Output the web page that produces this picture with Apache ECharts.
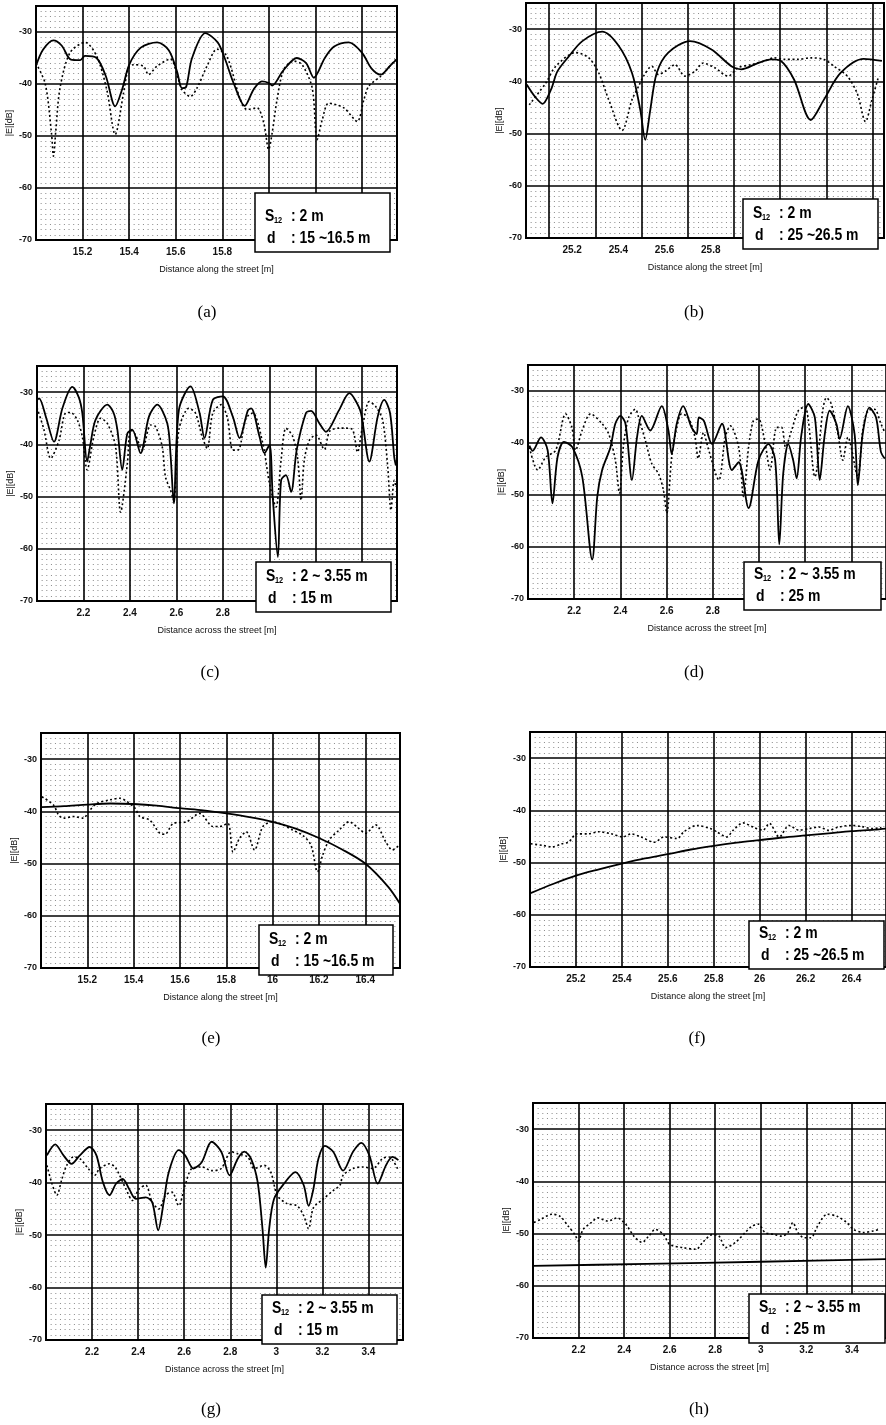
<!DOCTYPE html>
<html>
<head>
<meta charset="utf-8">
<style>
  html, body { margin: 0; padding: 0; background: #fff; }
  #chart { width: 886px; height: 1425px; }
</style>
<script src="https://cdn.jsdelivr.net/npm/echarts@6/dist/echarts.min.js"></script>
</head>
<body>
<div id="chart"></div>
<script>
// (a) along the street, S12 = 2 m, d = 15 ~ 16.5 m
const aSolid = [[15.0,-36.5],[15.03,-33.4],[15.075,-31.6],[15.11,-32.6],[15.15,-35.3],[15.19,-35.4],[15.21,-34.6],[15.26,-35.0],[15.30,-38.5],[15.34,-44.3],[15.37,-41.0],[15.40,-36.3],[15.45,-33.0],[15.52,-32.0],[15.57,-33.5],[15.605,-37.5],[15.627,-40.8],[15.645,-40.5],[15.67,-35.0],[15.727,-30.2],[15.78,-32.0],[15.81,-35.0],[15.85,-40.0],[15.896,-44.2],[15.935,-41.0],[15.97,-39.5],[16.0,-39.8],[16.014,-40.3],[16.06,-37.5],[16.12,-35.0],[16.16,-36.0],[16.193,-38.8],[16.24,-35.0],[16.28,-32.8],[16.343,-32.0],[16.40,-34.0],[16.44,-37.0],[16.48,-38.2],[16.52,-36.5],[16.55,-35.2]];
const aDotted = [[15.0,-36.0],[15.04,-40.0],[15.067,-49.7],[15.075,-53.9],[15.085,-49.0],[15.103,-40.8],[15.146,-34.0],[15.211,-32.0],[15.261,-34.7],[15.304,-41.1],[15.34,-49.7],[15.376,-41.7],[15.397,-36.9],[15.419,-36.3],[15.462,-36.6],[15.483,-38.2],[15.519,-36.6],[15.576,-35.2],[15.612,-39.2],[15.627,-41.1],[15.662,-42.4],[15.691,-40.8],[15.734,-36.6],[15.777,-33.3],[15.82,-34.7],[15.877,-43.0],[15.906,-44.9],[15.949,-44.6],[15.978,-47.5],[15.999,-52.6],[16.014,-49.4],[16.035,-43.0],[16.064,-37.2],[16.107,-35.6],[16.143,-36.3],[16.186,-40.8],[16.207,-50.7],[16.229,-46.9],[16.257,-43.7],[16.322,-44.6],[16.379,-47.2],[16.408,-43.0],[16.429,-40.4],[16.48,-38.5],[16.544,-35.3]];

// (b) along the street, S12 = 2 m, d = 25 ~ 26.5 m
const bSolid = [[25.003,-40.6],[25.04,-43.0],[25.072,-44.3],[25.108,-41.6],[25.136,-38.1],[25.186,-35.2],[25.244,-32.3],[25.33,-30.5],[25.401,-33.2],[25.459,-38.4],[25.495,-45.5],[25.516,-51.2],[25.538,-45.5],[25.566,-38.4],[25.616,-34.5],[25.71,-32.3],[25.803,-33.9],[25.889,-37.1],[25.932,-37.7],[26.004,-36.5],[26.061,-35.8],[26.104,-36.1],[26.161,-39.7],[26.233,-47.4],[26.29,-43.5],[26.362,-38.4],[26.462,-35.7],[26.541,-36.1]];
const bDotted = [[25.014,-44.5],[25.086,-40.3],[25.129,-37.1],[25.215,-34.5],[25.272,-35.5],[25.315,-38.4],[25.358,-43.5],[25.416,-49.4],[25.459,-43.5],[25.487,-41.0],[25.509,-39.0],[25.545,-37.1],[25.573,-38.7],[25.602,-38.1],[25.645,-36.8],[25.688,-39.0],[25.731,-38.1],[25.767,-36.5],[25.817,-37.4],[25.875,-39.0],[25.918,-37.4],[25.975,-36.8],[26.032,-36.1],[26.075,-35.5],[26.118,-35.8],[26.176,-35.8],[26.233,-35.5],[26.29,-35.8],[26.333,-37.1],[26.391,-39.0],[26.434,-42.3],[26.47,-47.7],[26.498,-43.5],[26.527,-39.0]];
const bGridX = [25.1, 25.3, 25.5, 25.7, 25.9, 26.1, 26.3, 26.5];

// (c) across the street, S12 = 2 ~ 3.55 m, d = 15 m
const cSolid = [[2.0,-31.5],[2.009,-31.2],[2.04,-35.0],[2.073,-39.5],[2.11,-33.0],[2.152,-29.0],[2.18,-31.0],[2.195,-34.0],[2.216,-43.3],[2.23,-40.0],[2.252,-35.3],[2.303,-32.4],[2.33,-34.0],[2.346,-37.2],[2.367,-44.9],[2.389,-37.9],[2.41,-37.2],[2.446,-41.7],[2.482,-34.7],[2.518,-32.4],[2.561,-36.0],[2.575,-42.0],[2.589,-51.3],[2.611,-33.4],[2.661,-28.9],[2.7,-34.0],[2.721,-38.8],[2.757,-31.5],[2.8,-30.8],[2.843,-34.7],[2.872,-38.8],[2.908,-33.5],[2.922,-33.1],[2.958,-38.5],[2.979,-41.7],[3.001,-40.1],[3.015,-50.1],[3.037,-61.6],[3.051,-46.9],[3.072,-45.9],[3.094,-49.1],[3.118,-41.1],[3.158,-34.0],[3.18,-33.6],[3.216,-36.0],[3.244,-37.6],[3.30,-33.5],[3.345,-30.2],[3.37,-31.5],[3.395,-34.0],[3.431,-43.3],[3.467,-34.7],[3.495,-31.5],[3.52,-34.0],[3.538,-42.4],[3.545,-44.0]];
const cDotted = [[2.0,-33.0],[2.03,-37.2],[2.059,-42.7],[2.095,-39.2],[2.123,-34.0],[2.145,-33.9],[2.173,-35.3],[2.195,-38.5],[2.216,-44.9],[2.245,-38.5],[2.274,-35.0],[2.303,-36.0],[2.338,-40.4],[2.36,-53.0],[2.389,-43.7],[2.403,-37.2],[2.424,-38.2],[2.453,-41.1],[2.489,-36.3],[2.51,-36.6],[2.539,-40.4],[2.553,-46.2],[2.575,-48.8],[2.589,-50.7],[2.611,-37.2],[2.654,-33.1],[2.682,-34.0],[2.711,-38.5],[2.733,-40.8],[2.757,-34.0],[2.793,-32.4],[2.82,-35.0],[2.843,-41.1],[2.865,-41.1],[2.9,-35.0],[2.929,-34.0],[2.972,-39.8],[3.001,-47.5],[3.029,-52.0],[3.051,-43.0],[3.072,-36.9],[3.101,-38.5],[3.123,-43.0],[3.137,-50.7],[3.151,-43.0],[3.173,-39.2],[3.201,-38.2],[3.237,-41.0],[3.26,-37.5],[3.30,-36.9],[3.33,-36.9],[3.359,-37.2],[3.38,-41.5],[3.40,-37.0],[3.431,-31.8],[3.459,-32.8],[3.488,-35.3],[3.51,-44.3],[3.524,-52.6],[3.538,-46.9],[3.545,-48.0]];

// (d) across the street, S12 = 2 ~ 3.55 m, d = 25 m
const dSolid = [[2.006,-40.5],[2.02,-41.5],[2.056,-38.9],[2.085,-41.4],[2.106,-51.6],[2.128,-42.7],[2.156,-39.8],[2.192,-40.8],[2.235,-46.5],[2.278,-62.4],[2.3,-50.3],[2.321,-45.2],[2.357,-40.8],[2.378,-36.3],[2.4,-34.8],[2.422,-36.3],[2.45,-47.1],[2.472,-38.9],[2.493,-34.8],[2.529,-37.6],[2.579,-32.9],[2.608,-37.6],[2.622,-42.1],[2.644,-36.3],[2.672,-32.9],[2.708,-37.0],[2.73,-38.3],[2.74,-35.1],[2.761,-35.7],[2.797,-40.2],[2.84,-36.3],[2.883,-45.2],[2.912,-43.7],[2.955,-52.5],[2.998,-43.3],[3.041,-40.2],[3.07,-43.3],[3.088,-59.5],[3.105,-45.9],[3.127,-40.2],[3.148,-43.3],[3.163,-46.8],[3.184,-38.3],[3.213,-32.5],[3.242,-35.1],[3.263,-47.1],[3.285,-38.3],[3.306,-33.8],[3.335,-36.3],[3.349,-39.2],[3.385,-32.9],[3.414,-38.3],[3.428,-48.1],[3.449,-38.3],[3.478,-33.2],[3.507,-35.1],[3.528,-41.7],[3.545,-43.0]];
const dDotted = [[2.006,-40.8],[2.042,-45.2],[2.077,-42.7],[2.12,-41.4],[2.163,-34.4],[2.19,-37.0],[2.206,-41.4],[2.235,-37.5],[2.271,-34.4],[2.321,-36.3],[2.35,-38.3],[2.378,-43.3],[2.396,-49.7],[2.414,-40.2],[2.436,-35.1],[2.465,-33.5],[2.479,-35.1],[2.508,-39.5],[2.536,-44.0],[2.565,-45.9],[2.586,-49.0],[2.601,-53.5],[2.622,-42.7],[2.644,-37.0],[2.665,-34.4],[2.694,-35.1],[2.723,-38.9],[2.737,-43.0],[2.76,-38.0],[2.78,-41.0],[2.826,-47.1],[2.854,-38.9],[2.876,-36.7],[2.912,-40.8],[2.933,-50.3],[2.955,-40.8],[2.976,-35.7],[2.998,-35.4],[3.027,-40.2],[3.048,-45.2],[3.077,-37.0],[3.098,-37.0],[3.115,-40.8],[3.141,-37.6],[3.17,-33.8],[3.199,-33.0],[3.242,-46.5],[3.277,-33.5],[3.292,-31.3],[3.313,-32.5],[3.342,-38.3],[3.363,-43.3],[3.385,-38.9],[3.428,-46.5],[3.449,-37.6],[3.471,-33.8],[3.5,-33.5],[3.528,-36.3],[3.545,-38.0]];

// (e) along the street, S12 = 2 m, d = 15 ~ 16.5 m
const eSolid = [[15.0,-39.2],[15.1,-39.0],[15.2,-38.7],[15.3,-38.5],[15.4,-38.6],[15.5,-38.9],[15.6,-39.4],[15.7,-39.8],[15.8,-40.4],[15.9,-41.1],[16.0,-42.0],[16.1,-43.3],[16.2,-45.1],[16.3,-47.3],[16.4,-50.0],[16.5,-54.5],[16.55,-57.7]];
const eDotted = [[15.004,-37.2],[15.054,-38.8],[15.076,-40.7],[15.097,-41.3],[15.14,-41.0],[15.184,-41.3],[15.205,-40.1],[15.241,-38.5],[15.298,-37.8],[15.341,-37.5],[15.37,-38.1],[15.406,-39.4],[15.427,-41.0],[15.47,-41.7],[15.513,-44.2],[15.535,-44.4],[15.571,-42.3],[15.628,-42.0],[15.685,-40.4],[15.743,-42.9],[15.771,-42.9],[15.807,-42.3],[15.829,-47.8],[15.857,-45.2],[15.886,-43.9],[15.922,-47.4],[15.958,-42.9],[16.001,-42.0],[16.044,-42.6],[16.087,-43.6],[16.13,-44.6],[16.166,-46.5],[16.194,-51.6],[16.216,-48.4],[16.244,-45.5],[16.287,-43.6],[16.33,-42.0],[16.373,-43.3],[16.402,-44.2],[16.445,-42.6],[16.488,-45.8],[16.517,-47.4],[16.546,-46.5]];

// (f) along the street, S12 = 2 m, d = 25 ~ 26.5 m
const fSolid = [[25.0,-55.9],[25.1,-54.1],[25.2,-52.5],[25.3,-51.3],[25.4,-50.2],[25.5,-49.2],[25.6,-48.4],[25.7,-47.5],[25.8,-46.8],[25.9,-46.2],[26.0,-45.7],[26.1,-45.2],[26.2,-44.8],[26.3,-44.4],[26.4,-44.0],[26.5,-43.7],[26.55,-43.5]];
const fDotted = [[25.003,-46.4],[25.053,-46.7],[25.096,-47.0],[25.139,-46.4],[25.168,-46.1],[25.204,-44.5],[25.254,-44.5],[25.297,-44.1],[25.354,-44.5],[25.404,-45.1],[25.44,-44.5],[25.483,-45.1],[25.541,-46.1],[25.584,-45.1],[25.641,-45.4],[25.67,-44.1],[25.727,-42.9],[25.785,-43.5],[25.813,-44.1],[25.856,-45.1],[25.885,-43.8],[25.928,-42.4],[25.971,-43.2],[26.014,-43.8],[26.042,-42.5],[26.085,-45.1],[26.128,-42.9],[26.171,-43.8],[26.214,-43.5],[26.257,-43.2],[26.3,-43.8],[26.343,-43.2],[26.401,-42.9],[26.444,-43.1],[26.487,-43.5],[26.53,-43.3]];

// (g) across the street, S12 = 2 ~ 3.55 m, d = 15 m
const gSolid = [[2.004,-34.8],[2.04,-32.7],[2.076,-34.8],[2.111,-36.4],[2.147,-34.8],[2.19,-33.2],[2.219,-34.8],[2.247,-39.9],[2.276,-42.4],[2.304,-40.2],[2.333,-39.3],[2.361,-41.2],[2.39,-43.1],[2.433,-42.8],[2.461,-43.7],[2.487,-49.1],[2.511,-43.7],[2.533,-38.0],[2.576,-33.8],[2.604,-34.8],[2.64,-37.3],[2.676,-36.1],[2.719,-32.2],[2.761,-34.1],[2.797,-38.6],[2.833,-35.4],[2.861,-34.1],[2.89,-35.4],[2.919,-39.9],[2.94,-48.8],[2.954,-56.2],[2.969,-48.8],[2.99,-43.1],[3.033,-40.2],[3.083,-38.0],[3.119,-40.5],[3.14,-44.4],[3.161,-41.2],[3.183,-35.4],[3.211,-33.0],[3.247,-34.1],[3.29,-37.7],[3.333,-34.1],[3.369,-32.4],[3.404,-34.8],[3.44,-40.2],[3.476,-36.7],[3.504,-35.1],[3.53,-35.7]];
const gDotted = [[2.004,-36.7],[2.026,-40.2],[2.047,-42.4],[2.069,-39.3],[2.09,-36.7],[2.119,-35.1],[2.147,-35.4],[2.183,-37.3],[2.211,-38.6],[2.233,-37.3],[2.276,-36.4],[2.304,-37.3],[2.347,-41.2],[2.376,-43.4],[2.404,-41.2],[2.433,-40.5],[2.461,-43.7],[2.49,-45.0],[2.519,-42.4],[2.547,-41.8],[2.576,-44.4],[2.604,-40.5],[2.633,-37.3],[2.676,-37.0],[2.719,-37.7],[2.761,-37.3],[2.804,-34.1],[2.833,-34.5],[2.876,-35.1],[2.904,-37.3],[2.947,-36.7],[2.976,-38.0],[3.004,-42.4],[3.047,-44.0],[3.09,-44.4],[3.119,-46.3],[3.14,-48.8],[3.161,-44.8],[3.204,-43.1],[3.247,-41.5],[3.276,-40.5],[3.29,-38.6],[3.333,-37.3],[3.376,-37.0],[3.419,-37.3],[3.461,-35.4],[3.49,-35.1],[3.53,-37.7]];

// (h) across the street, S12 = 2 ~ 3.55 m, d = 25 m
const hSolid = [[2.0,-56.2],[2.5,-55.8],[3.0,-55.4],[3.55,-54.9]];
const hDotted = [[2.004,-47.9],[2.033,-47.3],[2.083,-46.3],[2.119,-46.7],[2.155,-48.6],[2.184,-50.2],[2.199,-51.4],[2.22,-49.2],[2.256,-47.9],[2.285,-47.0],[2.328,-47.6],[2.371,-47.0],[2.393,-47.6],[2.414,-48.6],[2.443,-50.5],[2.479,-51.7],[2.508,-50.5],[2.537,-49.2],[2.573,-50.2],[2.601,-52.1],[2.659,-52.7],[2.717,-53.0],[2.745,-51.7],[2.788,-50.2],[2.817,-50.5],[2.846,-52.7],[2.889,-51.7],[2.932,-49.8],[2.961,-48.6],[2.99,-48.2],[3.019,-49.8],[3.062,-50.2],[3.091,-50.5],[3.119,-49.8],[3.141,-47.9],[3.163,-49.8],[3.191,-50.8],[3.22,-50.8],[3.249,-48.6],[3.292,-46.3],[3.335,-46.7],[3.378,-47.9],[3.407,-49.2],[3.45,-49.8],[3.494,-49.5],[3.522,-49.2]];

const yTicks = { min: -70, max: -25, interval: 10 };
const xNameAlong = 'Distance along the street [m]';
const xNameAcross = 'Distance across the street [m]';

const panels = [
  { tag: '(a)', solid: aSolid, dotted: aDotted, xr: [15, 16.55], labelMax: 15.85, xName: xNameAlong,
    grid: [36, 6, 361, 234], box: [255, 193, 135, 59], s12: ': 2 m', d: ': 15 ~16.5 m', cap: [207, 313] },
  { tag: '(b)', solid: bSolid, dotted: bDotted, xr: [25, 26.55], labelMax: 25.85, xName: xNameAlong,
    grid: [526, 3, 358, 235], box: [743, 199, 135, 50], s12: ': 2 m', d: ': 25 ~26.5 m', cap: [694, 313], shiftGrid: true },
  { tag: '(c)', solid: cSolid, dotted: cDotted, xr: [2, 3.55], labelMax: 2.85, xName: xNameAcross,
    grid: [37, 366, 360, 235], box: [256, 562, 135, 50], s12: ': 2 ~ 3.55 m', d: ': 15 m', cap: [210, 673] },
  { tag: '(d)', solid: dSolid, dotted: dDotted, xr: [2, 3.55], labelMax: 2.85, xName: xNameAcross,
    grid: [528, 365, 360, 234], box: [744, 562, 137, 48], s12: ': 2 ~ 3.55 m', d: ': 25 m', cap: [694, 673] },
  { tag: '(e)', solid: eSolid, dotted: eDotted, xr: [15, 16.55], labelMax: 99, xName: xNameAlong,
    grid: [41, 733, 359, 235], box: [259, 925, 134, 50], s12: ': 2 m', d: ': 15 ~16.5 m', cap: [211, 1039] },
  { tag: '(f)', solid: fSolid, dotted: fDotted, xr: [25, 26.55], labelMax: 99, xName: xNameAlong,
    grid: [530, 732, 358, 235], box: [749, 921, 135, 48], s12: ': 2 m', d: ': 25 ~26.5 m', cap: [697, 1039] },
  { tag: '(g)', solid: gSolid, dotted: gDotted, xr: [2, 3.55], labelMax: 99, xName: xNameAcross,
    grid: [46, 1104, 357, 236], box: [262, 1295, 135, 49], s12: ': 2 ~ 3.55 m', d: ': 15 m', cap: [211, 1410] },
  { tag: '(h)', solid: hSolid, dotted: hDotted, xr: [2, 3.55], labelMax: 99, xName: xNameAcross,
    grid: [533, 1103, 356, 235], box: [749, 1294, 136, 49], s12: ': 2 ~ 3.55 m', d: ': 25 m', cap: [699, 1410] }
];

const labelFont = '"Liberation Sans", Arial, sans-serif';
const boxFont = '"Liberation Sans", Arial, sans-serif';

const grids = [], xAxes = [], yAxes = [], series = [], graphics = [];

panels.forEach((p, i) => {
  const [gl, gt, gw, gh] = p.grid;
  grids.push({ left: gl, top: gt, width: gw, height: gh, containLabel: false });

  xAxes.push({
    type: 'value', gridIndex: i, min: p.xr[0], max: p.xr[1], interval: 0.2,
    name: p.xName, nameLocation: 'middle', nameGap: 25,
    nameTextStyle: { fontSize: 9, color: '#111', fontFamily: labelFont },
    axisLine: { show: false }, axisTick: { show: false },
    axisLabel: {
      fontSize: 10, fontWeight: 'bold', color: '#111', fontFamily: labelFont, margin: 7,
      showMinLabel: false, showMaxLabel: false,
      formatter: v => (v > p.labelMax + 1e-9 ? '' : String(+v.toFixed(2)))
    },
    splitLine: { show: !p.shiftGrid, lineStyle: { color: '#000', width: 1.6 } },
    minorTick: { show: false, splitNumber: 10 },
    minorSplitLine: { show: false }
  });

  yAxes.push({
    type: 'value', gridIndex: i, min: yTicks.min, max: yTicks.max, interval: yTicks.interval,
    name: '|E|[dB]', nameLocation: 'middle', nameGap: 22, nameRotate: 90,
    nameTextStyle: { fontSize: 9, color: '#111', fontFamily: labelFont },
    axisLine: { show: false }, axisTick: { show: false },
    axisLabel: { fontSize: 9, fontWeight: 'bold', color: '#111', fontFamily: labelFont, margin: 4, showMaxLabel: false },
    splitLine: { lineStyle: { color: '#000', width: 1.6 } },
    minorTick: { show: false, splitNumber: 10 },
    minorSplitLine: { show: true, lineStyle: { color: '#8a8a8a', width: 1, type: [1, 3.65] } }
  });

  const solid = {
    type: 'line', xAxisIndex: i, yAxisIndex: i, data: p.solid,
    showSymbol: false, smooth: 0.3, z: 4,
    lineStyle: { color: '#000', width: 1.8 }
  };
  if (p.shiftGrid) {
    solid.markLine = {
      silent: true, symbol: 'none', label: { show: false }, animation: false,
      lineStyle: { color: '#000', width: 1.6, type: 'solid' },
      data: bGridX.map(v => ({ xAxis: v }))
    };
  }
  series.push(solid);
  series.push({
    type: 'line', xAxisIndex: i, yAxisIndex: i, data: p.dotted,
    showSymbol: false, smooth: 0.3, z: 3,
    lineStyle: { color: '#000', width: 1.6, type: [2, 2.5] }
  });

  // plot frame
  graphics.push({
    type: 'rect', z: 50, silent: true,
    shape: { x: gl, y: gt, width: gw, height: gh },
    style: { fill: 'none', stroke: '#000', lineWidth: 2 }
  });

  // parameter box
  const [bx, by, bw, bh] = p.box;
  const l1 = by + bh - 36, l2 = by + bh - 14;
  graphics.push({
    type: 'rect', z: 100, silent: true,
    shape: { x: bx, y: by, width: bw, height: bh },
    style: { fill: '#fff', stroke: '#000', lineWidth: 1.5 }
  });
  const txt = (x, y, s, size) => ({
    type: 'text', z: 101, silent: true, x: x, y: y, scaleX: 0.82,
    style: { text: s, fill: '#000', font: 'bold ' + size + 'px ' + boxFont, verticalAlign: 'middle' }
  });
  graphics.push(txt(bx + 10, l1, 'S', 17));
  graphics.push(txt(bx + 19, l1 + 5, '12', 9));
  graphics.push(txt(bx + 36, l1, p.s12, 17));
  graphics.push(txt(bx + 12, l2, 'd', 17));
  graphics.push(txt(bx + 36, l2, p.d, 17));

  // panel caption
  graphics.push({
    type: 'text', z: 100, silent: true, x: p.cap[0], y: p.cap[1],
    style: { text: p.tag, fill: '#000', font: '17px "Liberation Serif", "DejaVu Serif", serif',
      align: 'center', verticalAlign: 'middle' }
  });
});

const chart = echarts.init(document.getElementById('chart'));
chart.setOption({
  animation: false,
  backgroundColor: '#fff',
  grid: grids,
  xAxis: xAxes,
  yAxis: yAxes,
  series: series,
  graphic: { elements: graphics }
});
</script>
</body>
</html>
